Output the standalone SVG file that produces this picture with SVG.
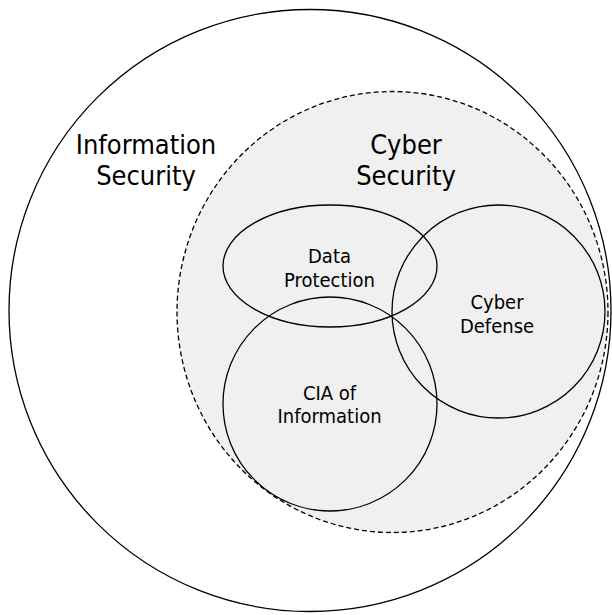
<svg xmlns="http://www.w3.org/2000/svg" width="612" height="615" viewBox="0 0 612 615">
  <style>
    .ring { fill: none; stroke: #000; stroke-width: 1.3; }
    .zone { fill: #f0f0f0; stroke: #000; stroke-width: 1.3; stroke-dasharray: 5 3; }
    text { font-family: "DejaVu Sans Condensed", "DejaVu Sans", sans-serif; font-stretch: condensed; text-anchor: middle; fill: #000; }
    .big { font-size: 27px; }
    .small { font-size: 20px; }
  </style>
  <rect width="612" height="615" fill="#fff"/>
  <g id="information-security">
    <circle class="ring" cx="310" cy="310.5" r="301"/>
    <text class="big" x="146" y="154">Information</text>
    <text class="big" x="146" y="185">Security</text>
  </g>
  <g id="cyber-security">
    <ellipse class="zone" cx="392.5" cy="312" rx="215.5" ry="220.5"/>
    <text class="big" x="406" y="154">Cyber</text>
    <text class="big" x="406" y="185">Security</text>
  </g>
  <g id="data-protection">
    <ellipse class="ring" cx="330" cy="266" rx="107" ry="61"/>
    <text class="small" x="329.5" y="263">Data</text>
    <text class="small" x="329.5" y="287">Protection</text>
  </g>
  <g id="cia-of-information">
    <circle class="ring" cx="330" cy="404" r="107"/>
    <text class="small" x="329.5" y="400">CIA of</text>
    <text class="small" x="329.5" y="423">Information</text>
  </g>
  <g id="cyber-defense">
    <circle class="ring" cx="498.5" cy="311.5" r="106.5"/>
    <text class="small" x="497" y="309">Cyber</text>
    <text class="small" x="497" y="333">Defense</text>
  </g>
  <g id="connectors"/>
</svg>
